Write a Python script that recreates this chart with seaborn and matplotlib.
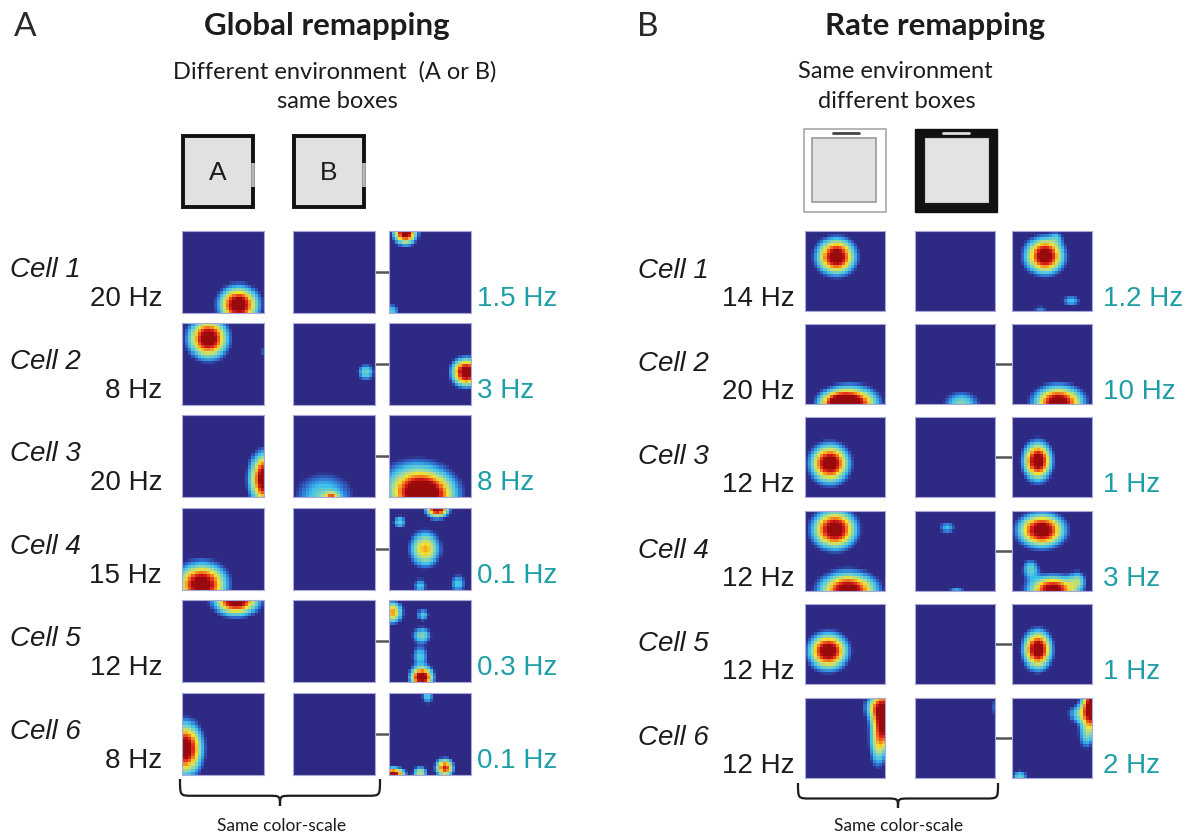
import numpy as np
import matplotlib
matplotlib.use("Agg")
import matplotlib.pyplot as plt
import seaborn as sns
from matplotlib.colors import LinearSegmentedColormap
from matplotlib.patches import Rectangle, PathPatch
from matplotlib.path import Path

# ---------------- data ----------------
cells = ["Cell 1", "Cell 2", "Cell 3", "Cell 4", "Cell 5", "Cell 6"]

A_rates_left = ["20 Hz", "8 Hz", "20 Hz", "15 Hz", "12 Hz", "8 Hz"]
A_rates_right = ["1.5 Hz", "3 Hz", "8 Hz", "0.1 Hz", "0.3 Hz", "0.1 Hz"]
B_rates_left = ["14 Hz", "20 Hz", "12 Hz", "12 Hz", "12 Hz", "12 Hz"]
B_rates_right = ["1.2 Hz", "10 Hz", "1 Hz", "3 Hz", "1 Hz", "2 Hz"]

A_linked = [1, 1, 1, 1, 1, 1]
B_linked = [0, 1, 1, 1, 1, 1]

# place fields read from the rate maps: (x, y, sigma_x, sigma_y, peak)
# x: 0 = left, 1 = right ; y: 0 = top, 1 = bottom ; peak relative to colour scale
A_box1 = [
    [(0.69, 0.90, 0.15, 0.14, 1.15)],
    [(0.32, 0.19, 0.15, 0.15, 1.15), (1.00, 0.35, 0.03, 0.04, 0.25)],
    [(1.00, 0.78, 0.11, 0.20, 1.15)],
    [(0.24, 0.93, 0.19, 0.16, 1.15)],
    [(0.66, 0.01, 0.17, 0.11, 1.15)],
    [(0.04, 0.68, 0.13, 0.20, 1.15)],
]
A_box2 = [
    [],
    [(0.89, 0.60, 0.07, 0.07, 0.42)],
    [(0.38, 1.00, 0.24, 0.20, 0.42), (0.47, 1.00, 0.06, 0.04, 0.50)],
    [],
    [],
    [],
]
A_box3 = [
    [(0.20, 0.02, 0.09, 0.09, 1.15), (0.03, 0.98, 0.07, 0.07, 0.38)],
    [(0.94, 0.60, 0.11, 0.11, 1.15)],
    [(0.42, 0.98, 0.24, 0.16, 1.15), (0.32, 0.78, 0.28, 0.18, 0.38)],
    [(0.59, 0.01, 0.09, 0.07, 1.10), (0.44, 0.50, 0.12, 0.14, 0.72),
     (0.13, 0.17, 0.055, 0.055, 0.38), (0.38, 0.95, 0.055, 0.065, 0.34),
     (0.84, 0.92, 0.065, 0.08, 0.36)],
    [(0.04, 0.15, 0.08, 0.09, 0.75), (0.41, 0.18, 0.055, 0.055, 0.36),
     (0.40, 0.43, 0.08, 0.07, 0.45), (0.38, 0.68, 0.07, 0.08, 0.36),
     (0.40, 0.94, 0.09, 0.08, 1.15)],
    [(0.47, 0.04, 0.055, 0.07, 0.38), (0.05, 0.99, 0.09, 0.055, 1.10),
     (0.38, 0.97, 0.055, 0.055, 0.55), (0.68, 0.91, 0.07, 0.07, 0.92)],
]

B_box1 = [
    [(0.39, 0.32, 0.15, 0.14, 1.15)],
    [(0.58, 0.99, 0.20, 0.13, 1.15), (0.38, 0.99, 0.14, 0.10, 0.60)],
    [(0.31, 0.58, 0.15, 0.15, 1.15)],
    [(0.37, 0.23, 0.17, 0.15, 1.15), (0.54, 0.99, 0.22, 0.14, 1.15)],
    [(0.29, 0.59, 0.15, 0.14, 1.15)],
    [(0.99, 0.26, 0.10, 0.24, 1.15), (0.86, 0.12, 0.09, 0.10, 0.35),
     (0.90, 0.62, 0.07, 0.18, 0.35)],
]
B_box2 = [
    [],
    [(0.58, 1.00, 0.15, 0.11, 0.45)],
    [],
    [(0.40, 0.21, 0.08, 0.055, 0.32), (0.52, 1.00, 0.08, 0.04, 0.32)],
    [],
    [(1.00, 0.12, 0.04, 0.11, 0.22)],
]
B_box3 = [
    [(0.41, 0.31, 0.15, 0.14, 1.15), (0.74, 0.87, 0.08, 0.055, 0.33),
     (0.35, 0.98, 0.07, 0.04, 0.25), (0.56, 0.08, 0.055, 0.055, 0.20)],
    [(0.58, 0.98, 0.19, 0.13, 1.15)],
    [(0.32, 0.55, 0.11, 0.15, 1.15)],
    [(0.37, 0.24, 0.18, 0.13, 1.15), (0.51, 0.98, 0.19, 0.11, 1.10),
     (0.23, 0.72, 0.07, 0.08, 0.38), (0.82, 0.86, 0.07, 0.08, 0.35)],
    [(0.32, 0.57, 0.11, 0.15, 1.15)],
    [(0.99, 0.12, 0.08, 0.19, 1.15), (0.82, 0.20, 0.09, 0.08, 0.35),
     (0.92, 0.48, 0.07, 0.12, 0.30), (0.10, 0.98, 0.07, 0.055, 0.40)],
]

# ---------------- styling ----------------
sns.set_theme(style="white")
plt.rcParams['font.family'] = ['Liberation Sans', 'DejaVu Sans']

W, H = 1191, 835
fig = plt.figure(figsize=(W / 100, H / 100), dpi=100)
fig.patch.set_facecolor("white")
ov = fig.add_axes([0, 0, 1, 1])
ov.set_xlim(0, W)
ov.set_ylim(H, 0)
ov.axis("off")

cmap = LinearSegmentedColormap.from_list("ratemap", [
    (0.00, "#2e2a84"), (0.13, "#2e2a84"), (0.21, "#2f68cc"),
    (0.32, "#3cc0ee"), (0.50, "#a8dc9a"), (0.64, "#f6e42a"),
    (0.79, "#f26a1e"), (0.90, "#dc1c1c"), (1.00, "#980a0c")])

TEAL = "#1e9ea6"
DARK = "#1c1c1c"
NBINS = 26


def rate_map(fields, nx, ny):
    xs = (np.arange(nx) + 0.5) / nx
    ys = (np.arange(ny) + 0.5) / ny
    X, Y = np.meshgrid(xs, ys)
    Z = np.zeros_like(X)
    for (cx, cy, sx, sy, a) in fields:
        Z += a * np.exp(-((X - cx) ** 2 / (2 * sx ** 2) + (Y - cy) ** 2 / (2 * sy ** 2)))
    return np.clip(Z, 0, 1)


def px_axes(x, y, w, h):
    return fig.add_axes([x / W, 1 - (y + h) / H, w / W, h / H])


def draw_map(fields, x, y, w, h):
    ax = px_axes(x, y, w, h)
    sns.heatmap(rate_map(fields, NBINS, NBINS), ax=ax, cmap=cmap, vmin=0, vmax=1,
                cbar=False, xticklabels=False, yticklabels=False)
    for s in ax.spines.values():
        s.set_visible(True)
        s.set_color("#aaa8d8")
        s.set_linewidth(0.8)


def brace(x0, x1, ytop, ytip):
    mid = (x0 + x1) / 2
    ym = ytop + 0.62 * (ytip - ytop)
    q = 12
    verts = [(x0, ytop), (x0, ym), (x0, ym), (x0 + q, ym),
             (mid - q, ym),
             (mid, ym), (mid, ym), (mid, ytip),
             (mid, ym), (mid, ym), (mid + q, ym),
             (x1 - q, ym),
             (x1, ym), (x1, ym), (x1, ytop)]
    codes = [Path.MOVETO, Path.CURVE4, Path.CURVE4, Path.CURVE4,
             Path.LINETO,
             Path.CURVE4, Path.CURVE4, Path.CURVE4,
             Path.CURVE4, Path.CURVE4, Path.CURVE4,
             Path.LINETO,
             Path.CURVE4, Path.CURVE4, Path.CURVE4]
    ov.add_patch(PathPatch(Path(verts, codes), fill=False, lw=1.6, color=DARK))


title_font = ['Lato', 'Open Sans', 'DejaVu Sans']

# ---------------- panel A ----------------
ov.text(14, 27, "A", fontsize=24, family=title_font, color="#2a2a2a", va="center")
ov.text(327, 26, "Global remapping", fontsize=22.5, family=title_font, fontweight="bold",
        color=DARK, ha="center", va="center")
ov.text(335, 72, "Different environment  (A or B)", fontsize=17, family=title_font,
        color=DARK, ha="center", va="center")
ov.text(337, 101, "same boxes", fontsize=17, family=title_font, color=DARK,
        ha="center", va="center")

for bx, lab in [(183, "A"), (294, "B")]:
    ov.add_patch(Rectangle((bx, 136), 70, 71, facecolor="#e1e1e1", edgecolor="#111111", lw=2.8))
    ov.plot([bx + 70, bx + 70], [163, 187], color="#b8b8b8", lw=2.6, solid_capstyle="butt")
    ov.text(bx + 35, 173, lab, fontsize=19, color=DARK, ha="center", va="center")

A_cols = [182, 293, 389]
A_rows = [231, 323, 415, 508, 600, 693]
A_size = 82
for i in range(6):
    y = A_rows[i]
    for xcol, data in zip(A_cols, [A_box1, A_box2, A_box3]):
        draw_map(data[i], xcol, y, A_size, A_size)
    if A_linked[i]:
        ov.plot([376, 389], [y + 41, y + 41], color="#555555", lw=1.8)
    ov.text(10, y + 39, cells[i], fontsize=20, style="italic", color=DARK, va="center")
    ov.text(162, y + 68, A_rates_left[i], fontsize=20, color=DARK, ha="right", va="center")
    ov.text(477, y + 68, A_rates_right[i], fontsize=20, color=TEAL, ha="left", va="center")

brace(180, 380, 779, 806)
ov.text(282, 826, "Same color-scale", fontsize=12.5, family=title_font, color=DARK,
        ha="center", va="center")

# ---------------- panel B ----------------
ov.text(637, 27, "B", fontsize=24, family=title_font, color="#2a2a2a", va="center")
ov.text(935, 26, "Rate remapping", fontsize=22.5, family=title_font, fontweight="bold",
        color=DARK, ha="center", va="center")
ov.text(895, 72, "Same environment", fontsize=17, family=title_font, color=DARK,
        ha="center", va="center")
ov.text(897, 101, "different boxes", fontsize=17, family=title_font, color=DARK,
        ha="center", va="center")

# white box
ov.add_patch(Rectangle((804, 129), 82, 83, facecolor="white", edgecolor="#a8a8a8", lw=1.2))
ov.add_patch(Rectangle((812, 138), 64, 64, facecolor="#e1e1e1", edgecolor="#9a9a9a", lw=1.2))
ov.plot([833, 859], [133, 133], color="#444444", lw=2)
# black box
ov.add_patch(Rectangle((915, 129), 82, 83, facecolor="#111111", edgecolor="#111111", lw=1))
ov.add_patch(Rectangle((925, 138), 63, 64, facecolor="#e3e3e3", edgecolor="#cccccc", lw=0.8))
ov.plot([943, 969], [133, 133], color="#dddddd", lw=2)

B_cols = [805, 915, 1012]
B_rows = [231, 324, 417, 511, 604, 698]
B_size = 80
for i in range(6):
    y = B_rows[i]
    for xcol, data in zip(B_cols, [B_box1, B_box2, B_box3]):
        draw_map(data[i], xcol, y, B_size, B_size)
    if B_linked[i]:
        ov.plot([995, 1012], [y + 40, y + 40], color="#555555", lw=1.8)
    ov.text(638, y + 40, cells[i], fontsize=20, style="italic", color=DARK, va="center")
    ov.text(795, y + 68, B_rates_left[i], fontsize=20, color=DARK, ha="right", va="center")
    ov.text(1103, y + 68, B_rates_right[i], fontsize=20, color=TEAL, ha="left", va="center")

brace(798, 998, 783, 808)
ov.text(899, 826, "Same color-scale", fontsize=12.5, family=title_font, color=DARK,
        ha="center", va="center")

fig.savefig("out.png", dpi=100, facecolor="white")
